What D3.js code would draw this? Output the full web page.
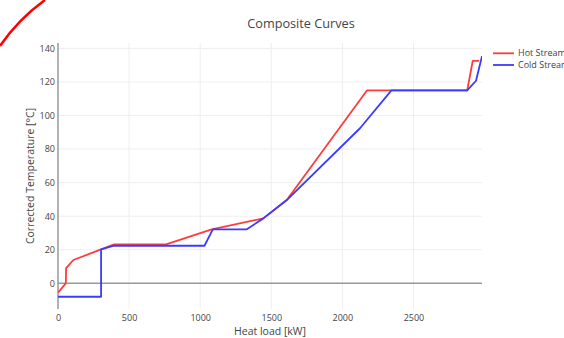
<!DOCTYPE html>
<html>
<head>
<meta charset="utf-8">
<script src="https://cdn.jsdelivr.net/npm/d3@7"></script>
<style>
    body { margin: 0; background: #fff; }
    svg { display: block; font-family: 'Open Sans', verdana, arial, sans-serif; }
</style>
</head>
<body>
<div id="chart"></div>
<script>
'use strict';

//heat load [kW] and corrected temperature [C] for each composite
var hotLoad = [0, 55, 57, 108, 303, 394, 760, 1081, 1444, 1609, 2174, 2878, 2917, 2963];
var hotTemp = [-5.6, 0, 9, 13.9, 20.2, 23.2, 23.2, 32.2, 38.7, 49.6, 115, 115, 132.6, 132.6];
var coldLoad = [0, 303, 303, 394, 1030, 1089, 1328, 1444, 1609, 2124, 2345, 2878, 2940, 2982];
var coldTemp = [-8, -8, 20.2, 22.4, 22.4, 32.2, 32.2, 38.7, 49.6, 92.4, 115, 115, 120.7, 135.4];

var xTicks = [0, 500, 1000, 1500, 2000, 2500];
var yTicks = [0, 20, 40, 60, 80, 100, 120, 140];
var seriesNames = ['Hot Stream', 'Cold Stream'];

var width = 564, height = 338;
var plot = { left: 58, right: 482, top: 43, bottom: 309 };
var colors = ['#ff3b3b', '#3b3bff'];

var svg = d3.select('#chart').append('svg')
    .attr('width', width)
    .attr('height', height);

var x = d3.scaleLinear().domain([0, 2982]).range([plot.left, plot.right]);
var y = d3.scaleLinear().domain([-15.3, 143.2]).range([plot.bottom, plot.top]);

svg.append('clipPath').attr('id', 'plot-clip')
    .append('rect')
    .attr('x', plot.left).attr('y', plot.top)
    .attr('width', plot.right - plot.left).attr('height', plot.bottom - plot.top);

//grid lines
var grid = svg.append('g');
grid.selectAll('.vgrid')
    .data(xTicks.filter(function(d) { return d !== 0; }))
    .enter().append('line')
    .attr('x1', function(d) { return x(d); }).attr('x2', function(d) { return x(d); })
    .attr('y1', plot.top).attr('y2', plot.bottom)
    .attr('stroke', '#eee').attr('stroke-width', 1);
grid.selectAll('.hgrid')
    .data(yTicks.filter(function(d) { return d !== 0; }))
    .enter().append('line')
    .attr('x1', plot.left).attr('x2', plot.right)
    .attr('y1', function(d) { return y(d); }).attr('y2', function(d) { return y(d); })
    .attr('stroke', '#eee').attr('stroke-width', 1);

//zero lines
svg.append('line')
    .attr('x1', plot.left).attr('x2', plot.right)
    .attr('y1', y(0)).attr('y2', y(0))
    .attr('stroke', '#999').attr('stroke-width', 1.5);
svg.append('line')
    .attr('x1', x(0)).attr('x2', x(0))
    .attr('y1', plot.top).attr('y2', plot.bottom)
    .attr('stroke', '#999').attr('stroke-width', 1.5);

//axes, labels only
var xAxis = svg.append('g')
    .attr('transform', 'translate(0,' + (plot.bottom + 2) + ')')
    .call(d3.axisBottom(x).tickValues(xTicks).tickFormat(d3.format('d')).tickSize(0).tickPadding(4));
var yAxis = svg.append('g')
    .attr('transform', 'translate(' + (plot.left - 2) + ',0)')
    .call(d3.axisLeft(y).tickValues(yTicks).tickFormat(d3.format('d')).tickSize(0).tickPadding(1));
[xAxis, yAxis].forEach(function(a) {
    a.select('.domain').remove();
    a.selectAll('text')
        .attr('fill', '#444')
        .attr('font-size', '9px')
        .attr('font-family', "'Open Sans', verdana, arial, sans-serif");
});

//curves
var line = d3.line()
    .x(function(d) { return x(d[0]); })
    .y(function(d) { return y(d[1]); });

var series = [
    d3.zip(hotLoad, hotTemp),
    d3.zip(coldLoad, coldTemp)
];

svg.append('g')
    .attr('clip-path', 'url(#plot-clip)')
    .selectAll('.curve')
    .data(series)
    .enter().append('path')
    .attr('class', 'curve')
    .attr('d', line)
    .attr('fill', 'none')
    .attr('stroke', function(d, i) { return colors[i]; })
    .attr('stroke-width', 1.8)
    .attr('stroke-linejoin', 'round');

//titles
svg.append('text')
    .attr('x', 301).attr('y', 28)
    .attr('text-anchor', 'middle')
    .attr('font-size', '12.7px')
    .attr('fill', '#444')
    .text('Composite Curves');

svg.append('text')
    .attr('x', (plot.left + plot.right) / 2).attr('y', 335)
    .attr('text-anchor', 'middle')
    .attr('font-size', '10.5px')
    .attr('fill', '#444')
    .text('Heat load [kW]');

svg.append('text')
    .attr('transform', 'translate(34,' + ((plot.top + plot.bottom) / 2) + ') rotate(-90)')
    .attr('text-anchor', 'middle')
    .attr('font-size', '10.5px')
    .attr('fill', '#444')
    .text('Corrected Temperature [°C]');

//legend (clipped by the right edge, as in the screenshot)
var legend = svg.append('g')
    .selectAll('.legend')
    .data(seriesNames)
    .enter().append('g')
    .attr('transform', function(d, i) { return 'translate(493,' + (53.3 + i * 11.7) + ')'; });
legend.append('line')
    .attr('x1', 0).attr('x2', 21)
    .attr('stroke', function(d, i) { return colors[i]; })
    .attr('stroke-width', 1.8);
legend.append('text')
    .attr('x', 25).attr('dy', '0.35em')
    .attr('font-size', '9px')
    .attr('fill', '#444')
    .text(function(d) { return d; });

//red mark in the top left corner of the screenshot
svg.append('path')
    .attr('d', 'M 0 46 A 188 188 0 0 1 45 0')
    .attr('fill', 'none')
    .attr('stroke', '#f00')
    .attr('stroke-width', 2.5);
</script>
</body>
</html>
